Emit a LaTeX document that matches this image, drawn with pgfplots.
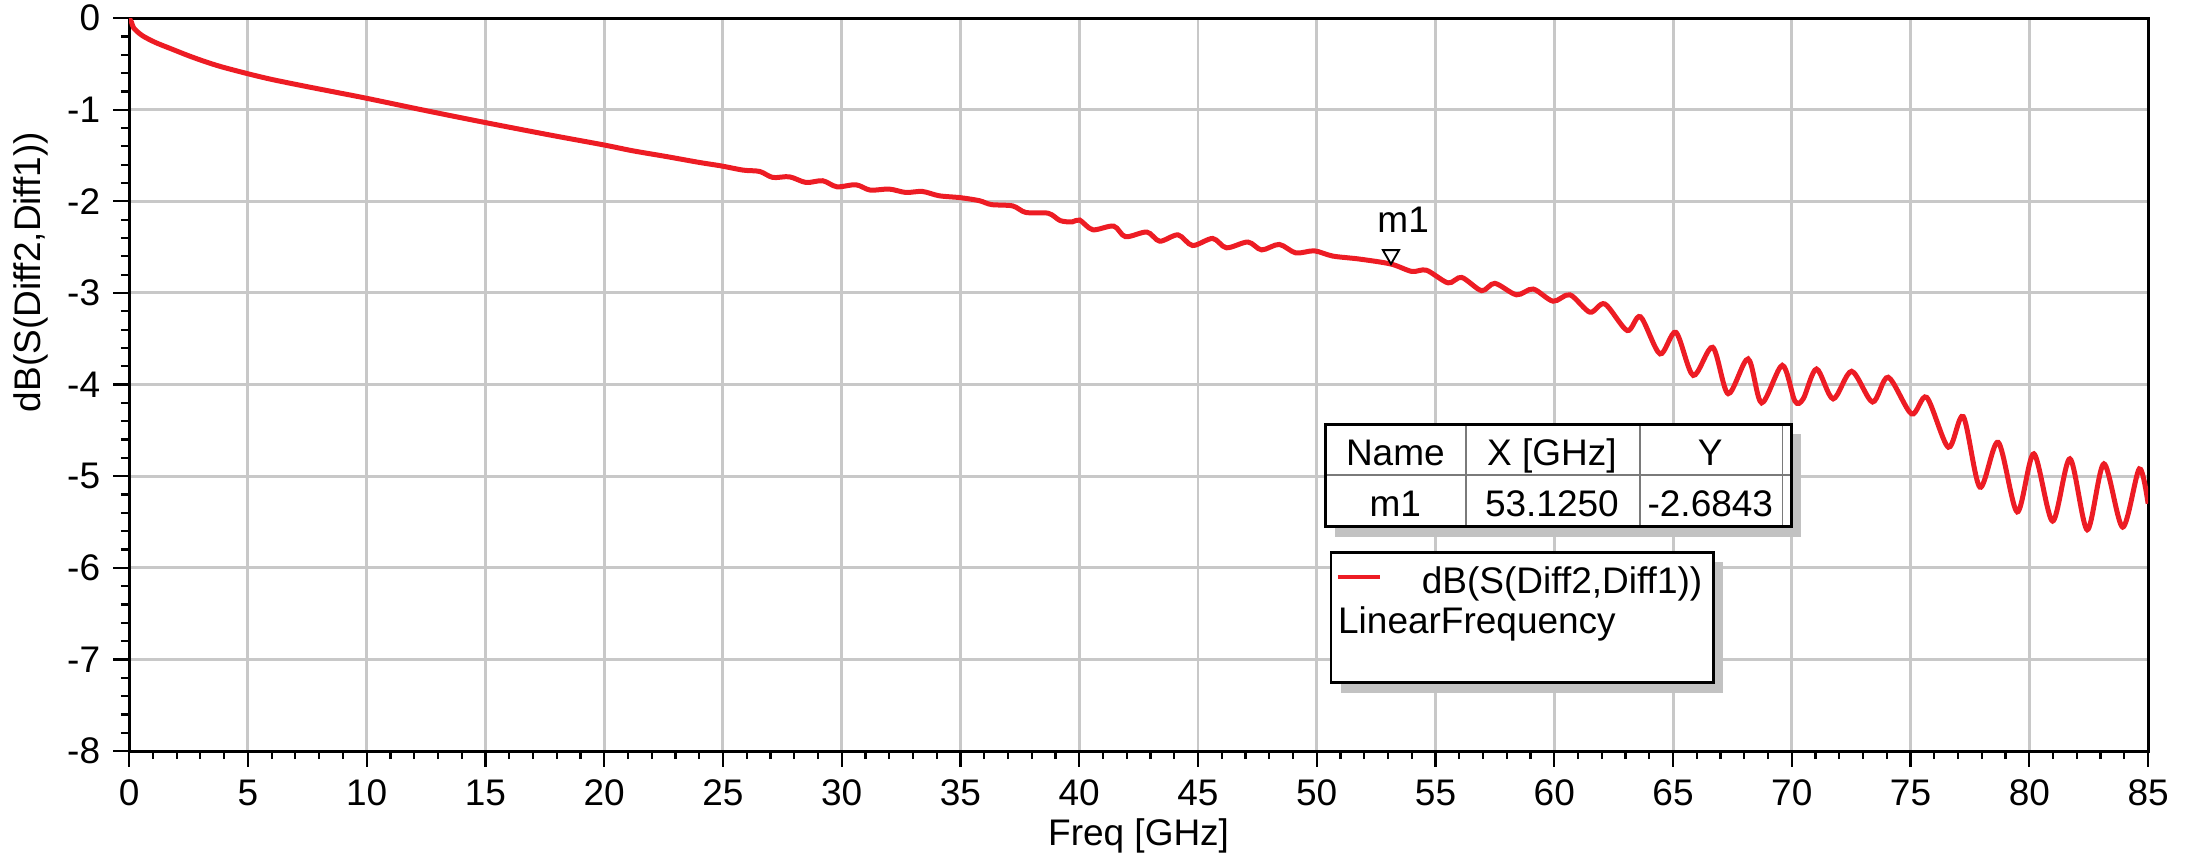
\documentclass[border=0pt]{standalone}
\usepackage{fontspec}
\setmainfont{Liberation Sans}
\usepackage{pgfplots}
\usepackage{pgfplotstable}
\pgfplotsset{compat=1.18}
\definecolor{trace}{HTML}{ED1C24}
\definecolor{gridgray}{HTML}{C8C8C8}
\definecolor{shadowgray}{HTML}{C2C2C2}
\definecolor{cellline}{HTML}{7A7A7A}

% dB(S(Diff2,Diff1))
\pgfplotstableread{
f s
0 0
0.1 -0.045
0.2 -0.11
0.55 -0.19
1.1 -0.265
1.8 -0.338
2.5 -0.41
3.2 -0.475
3.9 -0.532
5.0 -0.607
6.0 -0.669
7.4 -0.743
8.8 -0.814
10.0 -0.875
12.5 -1.01
15.0 -1.14
17.7 -1.275
20.0 -1.385
21.2 -1.448
22.6 -1.51
24.0 -1.575
24.9 -1.612
25.85 -1.659
26.55 -1.674
27.1 -1.739
27.8 -1.732
28.5 -1.794
29.2 -1.775
29.8 -1.841
30.6 -1.819
31.2 -1.877
32.0 -1.866
32.7 -1.903
33.4 -1.892
34.1 -1.939
35.0 -1.96
35.8 -1.993
36.3 -2.035
37.2 -2.05
37.75 -2.121
38.7 -2.13
39.2 -2.21
39.7 -2.225
40.02 -2.204
40.57 -2.31
41.45 -2.27
41.95 -2.386
42.85 -2.335
43.39 -2.435
44.16 -2.366
44.77 -2.482
45.62 -2.405
46.2 -2.507
47.1 -2.444
47.68 -2.53
48.42 -2.47
49.12 -2.563
49.9 -2.54
50.67 -2.597
51.8 -2.63
53.125 -2.6843
54.0 -2.765
54.62 -2.752
55.53 -2.89
56.10 -2.83
56.94 -2.975
57.50 -2.895
58.41 -3.02
59.11 -2.957
59.95 -3.09
60.66 -3.02
61.50 -3.21
62.13 -3.12
63.07 -3.41
63.63 -3.26
64.45 -3.665
65.12 -3.43
65.85 -3.90
66.67 -3.593
67.32 -4.10
68.16 -3.72
68.73 -4.20
69.6 -3.79
70.13 -4.18
70.48 -4.156
71.04 -3.83
71.74 -4.156
72.52 -3.855
73.40 -4.19
74.06 -3.92
75.04 -4.32
75.68 -4.14
76.59 -4.684
77.22 -4.35
77.92 -5.12
78.69 -4.63
79.49 -5.39
80.19 -4.756
80.98 -5.49
81.71 -4.81
82.44 -5.585
83.14 -4.865
83.93 -5.556
84.63 -4.92
85 -5.30
}\sparam

\begin{document}
\begin{tikzpicture}[font=\fontsize{10}{12}\selectfont]
\begin{axis}[
  scale only axis,
  width=545.7pt, height=198.1pt,
  xmin=0, xmax=85, ymin=-8, ymax=0,
  xtick={0,5,...,85}, ytick={-8,-7,...,0},
  minor x tick num=4, minor y tick num=4,
  tick align=outside, tick pos=left,
  major tick length=4.3pt, minor tick length=2.2pt,
  every tick/.style={black, line width=0.6pt},
  grid=major,
  major grid style={draw=gridgray, line width=0.8pt},
  axis line style={black, line width=0.8pt},
  /pgf/number format/assume math mode=true,
  ticklabel style={font=\fontsize{10}{12}\selectfont},
  xlabel={Freq [GHz]},
  ylabel={dB(S(Diff2,Diff1))},
  xlabel style={at={(axis description cs:0.5,-0.116)}, anchor=center},
  ylabel style={at={(axis description cs:-0.0486,0.6535)}, anchor=center},
]
\addplot[trace, line width=1.35pt, smooth, tension=0.5, no markers] table[x=f, y=s] {\sparam};

% marker m1
\addplot[only marks, mark=triangle*, mark size=2.5pt,
  mark options={draw=black, fill=white, line width=0.5pt, yshift=2.5pt, rotate=180},
  nodes near coords={m1},
  every node near coord/.append style={anchor=base, xshift=3.3pt, yshift=6pt, black, font=\fontsize{10}{12}\selectfont}]
  coordinates {(53.125,-2.6843)};

% marker table
\fill[shadowgray] (50.78,-4.544) rectangle (70.40,-5.662);
\draw[fill=white, line width=0.8pt] (50.36,-4.435) rectangle (69.98,-5.553);
\draw[cellline, line width=0.5pt] (50.36,-4.988) -- (69.98,-4.988)
  (56.29,-4.435) -- (56.29,-5.553) (63.62,-4.435) -- (63.62,-5.553)
  (69.61,-4.435) -- (69.61,-5.553);
\draw[line width=0.8pt] (50.36,-4.435) rectangle (69.98,-5.553);
\node[anchor=base, inner sep=0pt] at (53.31,-4.879) {Name};
\node[anchor=base, inner sep=0pt] at (59.9,-4.879) {X [GHz]};
\node[anchor=base, inner sep=0pt] at (66.57,-4.879) {Y};
\node[anchor=base, inner sep=0pt] at (53.31,-5.443) {m1};
\node[anchor=base, inner sep=0pt] at (59.9,-5.443) {53.1250};
\node[anchor=base, inner sep=0pt] at (66.57,-5.443) {-2.6843};

% legend box
\fill[shadowgray] (51.02,-5.94) rectangle (67.11,-7.364);
\draw[fill=white, line width=0.8pt] (50.6,-5.831) rectangle (66.69,-7.255);
\draw[trace, line width=1.1pt] (50.89,-6.098) -- (52.65,-6.098);
\node[anchor=base east, inner sep=0pt] at (66.26,-6.279) {dB(S(Diff2,Diff1))};
\node[anchor=base west, inner sep=0pt] at (50.87,-6.715) {LinearFrequency};
\end{axis}
\pgfresetboundingbox
\path ([shift={(-34.9pt,-28.9pt)}]current axis.south west) rectangle ([shift={(11.6pt,4.9pt)}]current axis.north east);
\end{tikzpicture}
\end{document}
